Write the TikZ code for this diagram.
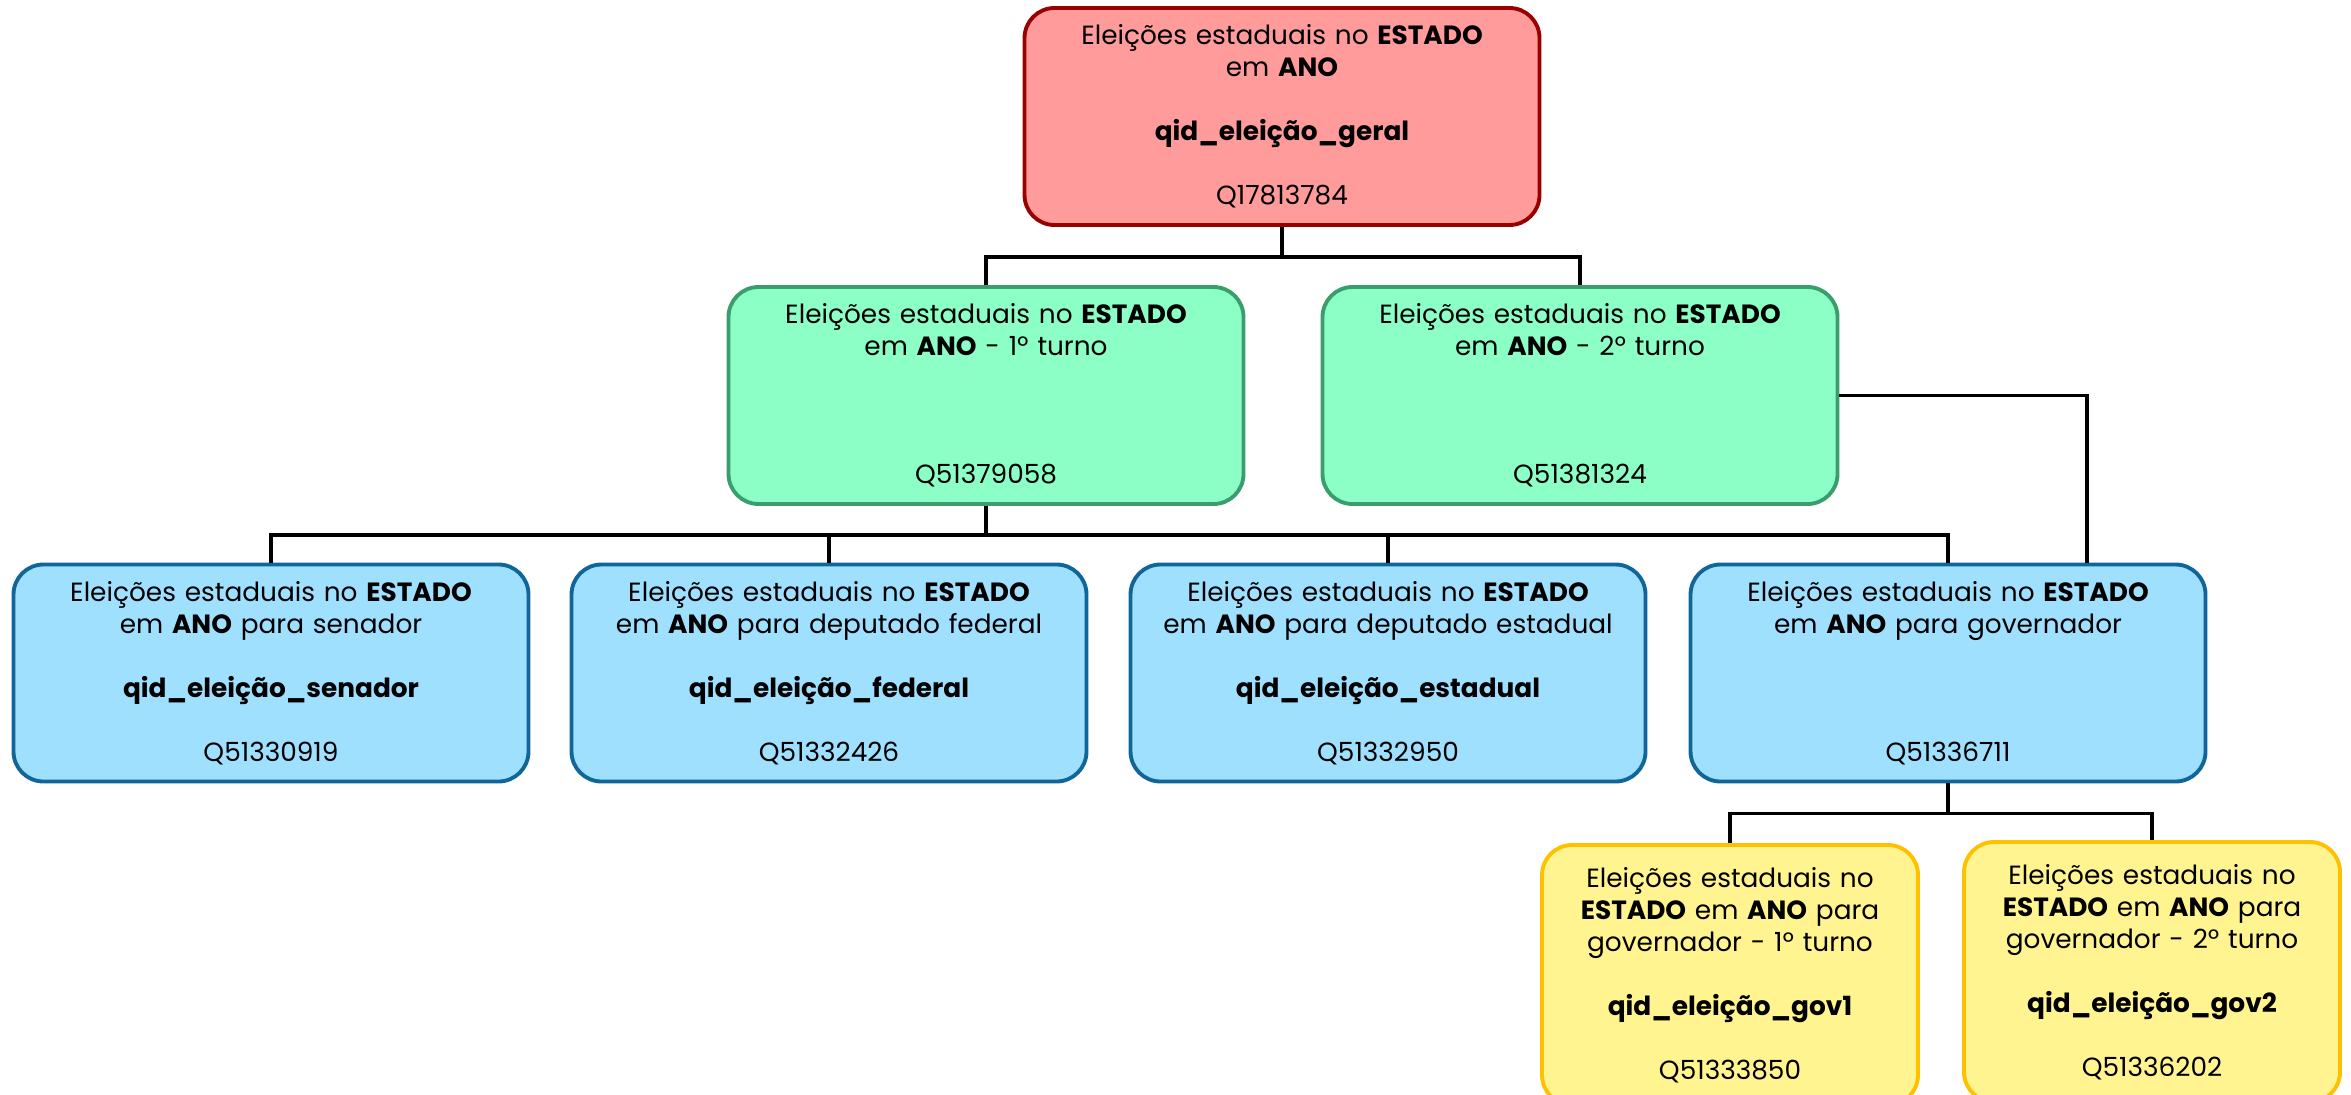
\documentclass[tikz,border=0pt]{standalone}
\usepackage{fontspec}
\setmainfont{Poppins}
\usepackage{tikz}
\usetikzlibrary{positioning}
\definecolor{redfill}{HTML}{FF9B9B}
\definecolor{redline}{HTML}{990000}
\definecolor{greenfill}{HTML}{8CFFC6}
\definecolor{greenline}{HTML}{3A9E6C}
\definecolor{bluefill}{HTML}{A0E0FF}
\definecolor{blueline}{HTML}{10659A}
\definecolor{yellowfill}{HTML}{FFF490}
\definecolor{yellowline}{HTML}{FFC000}
\tikzset{%
  block/.style={rectangle, draw, line width=1.1pt, rounded corners=0.3cm, align=center,
    text width=5.0cm, minimum width=5.15cm, minimum height=2.17cm, inner sep=0pt,
    font=\fontsize{7.5}{9.1}\selectfont},
  redblock/.style={block, fill=redfill, draw=redline},
  greenblock/.style={block, fill=greenfill, draw=greenline},
  blueblock/.style={block, fill=bluefill, draw=blueline},
  yellowblock/.style={block, fill=yellowfill, draw=yellowline, text width=3.6cm, minimum width=3.76cm, minimum height=2.6cm},
  link/.style={draw, line width=1.1pt}}

\begin{document}
\begin{tikzpicture}
  \useasboundingbox (0,0) rectangle (23.51,-10.94);
  \clip (0,0) rectangle (23.51,-10.94);
  % top level
  \node [redblock] (geral) at (12.82, -1.165) {Eleições estaduais no \textbf{ESTADO}\\ em \textbf{ANO}\\[9.1pt] \textbf{qid\_eleição\_geral}\\[9.1pt] Q17813784};
  % turnos
  \node [greenblock] (turno1) at (9.86, -3.955) {Eleições estaduais no \textbf{ESTADO}\\ em \textbf{ANO} - 1º turno\\[27.3pt] Q51379058};
  \node [greenblock] (turno2) at (15.80, -3.955) {Eleições estaduais no \textbf{ESTADO}\\ em \textbf{ANO} - 2º turno\\[27.3pt] Q51381324};
  % cargos
  \node [blueblock] (senador) at (2.71, -6.73) {Eleições estaduais no \textbf{ESTADO}\\ em \textbf{ANO} para senador\\[9.1pt] \textbf{qid\_eleição\_senador}\\[9.1pt] Q51330919};
  \node [blueblock] (federal) at (8.29, -6.73) {Eleições estaduais no \textbf{ESTADO}\\ em \textbf{ANO} para deputado federal\\[9.1pt] \textbf{qid\_eleição\_federal}\\[9.1pt] Q51332426};
  \node [blueblock] (estadual) at (13.88, -6.73) {Eleições estaduais no \textbf{ESTADO}\\ em \textbf{ANO} para deputado estadual\\[9.1pt] \textbf{qid\_eleição\_estadual}\\[9.1pt] Q51332950};
  \node [blueblock] (governador) at (19.48, -6.73) {Eleições estaduais no \textbf{ESTADO}\\ em \textbf{ANO} para governador\\[27.3pt] Q51336711};
  % governador por turno
  \node [yellowblock] (gov1) at (17.30, -9.75) {Eleições estaduais no\\ \textbf{ESTADO} em \textbf{ANO} para\\ governador - 1º turno\\[9.1pt] \textbf{qid\_eleição\_gov1}\\[9.1pt] Q51333850};
  \node [yellowblock] (gov2) at (21.52, -9.72) {Eleições estaduais no\\ \textbf{ESTADO} em \textbf{ANO} para\\ governador - 2º turno\\[9.1pt] \textbf{qid\_eleição\_gov2}\\[9.1pt] Q51336202};

  % connectors
  \draw [link] (geral.south) -- ++(0,-0.3) coordinate (geralsplit);
  \draw [link] (turno1.north) |- (geralsplit) -| (turno2.north);
  \draw [link] (turno1.south) -- ++(0,-0.29) coordinate (turnosplit);
  \draw [link] (senador.north) |- (turnosplit) -| (governador.north);
  \draw [link] (federal.north) -- (federal.north |- turnosplit);
  \draw [link] (estadual.north) -- (estadual.north |- turnosplit);
  \draw [link] (turno2.east) -| ([xshift=1.39cm]governador.north);
  \draw [link] (governador.south) -- ++(0,-0.3) coordinate (govsplit);
  \draw [link] (gov1.north) |- (govsplit) -| (gov2.north);
\end{tikzpicture}
\end{document}
